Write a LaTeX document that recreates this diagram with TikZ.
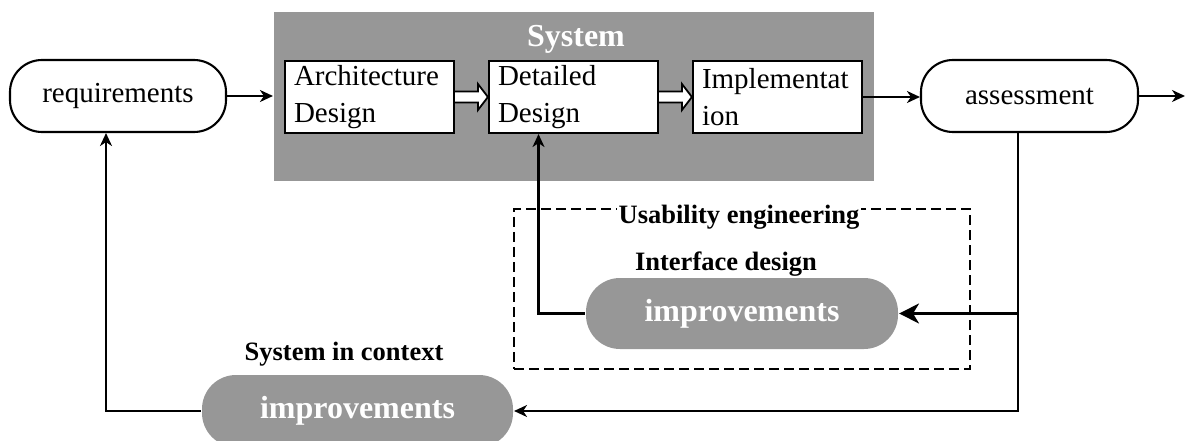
\documentclass[tikz,border=0pt]{standalone}
\usepackage{fontspec}
\setmainfont{Liberation Serif}
\usetikzlibrary{arrows.meta,calc}
\definecolor{sysgray}{RGB}{151,151,151}
\begin{document}
\begin{tikzpicture}[x=1pt,y=-1pt,
  line width=2.1pt,
  >={Stealth[length=13pt,width=12pt,inset=4pt]},
  stadium/.style={draw, rounded corners=32pt, minimum width=216pt, minimum height=72pt, inner sep=0pt, font=\fontsize{29}{35}\selectfont},
  grayst/.style={fill=sysgray, rounded corners=34pt, minimum width=312pt, minimum height=71pt, inner sep=0pt, text=white, font=\bfseries\fontsize{32}{38}\selectfont},
  stepbox/.style={draw, fill=white, minimum width=169pt, minimum height=72pt, text width=151pt, align=left, inner xsep=9pt, inner ysep=0pt, font=\fontsize{29}{37}\selectfont},
  tlabel/.style={font=\bfseries\fontsize{26.5}{30}\selectfont, inner sep=2pt},
  blockarrow/.style={draw, fill=white, line width=1.8pt, line join=miter},
  dashbox/.style={draw, line width=1.8pt, dash pattern=on 10pt off 5pt}
]
\useasboundingbox (0,0) rectangle (1187,441);

% System block
\node[fill=sysgray, minimum width=600pt, minimum height=169pt, inner sep=0pt] (sys) at (574,96.5) {};
\node[anchor=base, text=white, font=\bfseries\fontsize{32}{38}\selectfont] (systitle) at (576,47) {System};

\node[stadium] (req) at (118,96) {requirements};
\node[stepbox] (arch) at (369.5,97) {Architecture\\Design};
\node[stepbox] (det) at (573.5,97) {Detailed\\Design};
\node[stepbox] (impl) at (777.5,97) {Implementat\\ion};
\node[stadium, minimum width=217pt] (ass) at (1029.5,96) {assessment};
\coordinate (out) at (1185,96);

% block arrows
\draw[blockarrow] ($(arch.east)+(0,-5.5)$) -- ($(det.west)+(-10,-5.5)$) -- ($(det.west)+(-10,-13)$) -- (det.west) -- ($(det.west)+(-10,13)$) -- ($(det.west)+(-10,5.5)$) -- ($(arch.east)+(0,5.5)$);
\draw[blockarrow] ($(det.east)+(0,-5.5)$) -- ($(impl.west)+(-10,-5.5)$) -- ($(impl.west)+(-10,-13)$) -- (impl.west) -- ($(impl.west)+(-10,13)$) -- ($(impl.west)+(-10,5.5)$) -- ($(det.east)+(0,5.5)$);

% main arrows
\draw[->] (req.east) -- (req.east -| sys.west);
\draw[->] (impl.east) -- (impl.east -| ass.west);
\draw[->] (ass.east) -- (out);

% usability engineering box
\node[dashbox, minimum width=456pt, minimum height=160pt] (ue) at (742,289) {};
\node[tlabel, fill=white, anchor=base] (uetitle) at (739,223) {Usability engineering};
\node[tlabel, anchor=base] (ifd) at (726,270) {Interface design};
\node[grayst] (imp1) at (742,313.5) {improvements};

\node[tlabel, anchor=base] (sic) at (344,360) {System in context};
\node[grayst, minimum width=311pt, minimum height=72pt] (imp2) at (357.5,411) {improvements};

% feedback connectors
\coordinate (tap) at ($(ass.south)+(-11.5,0)$);
\draw[->] (tap) |- (imp2.east);
\draw[->, >={Stealth[length=20pt,width=20pt,inset=6pt]}] (tap |- imp1.east) -- (imp1.east);
\draw[->] (imp1.west) -| ($(det.south)+(-35,0)$);
\draw[->] (imp2.west) -| ($(req.south)+(-12,0)$);
\end{tikzpicture}
\end{document}
